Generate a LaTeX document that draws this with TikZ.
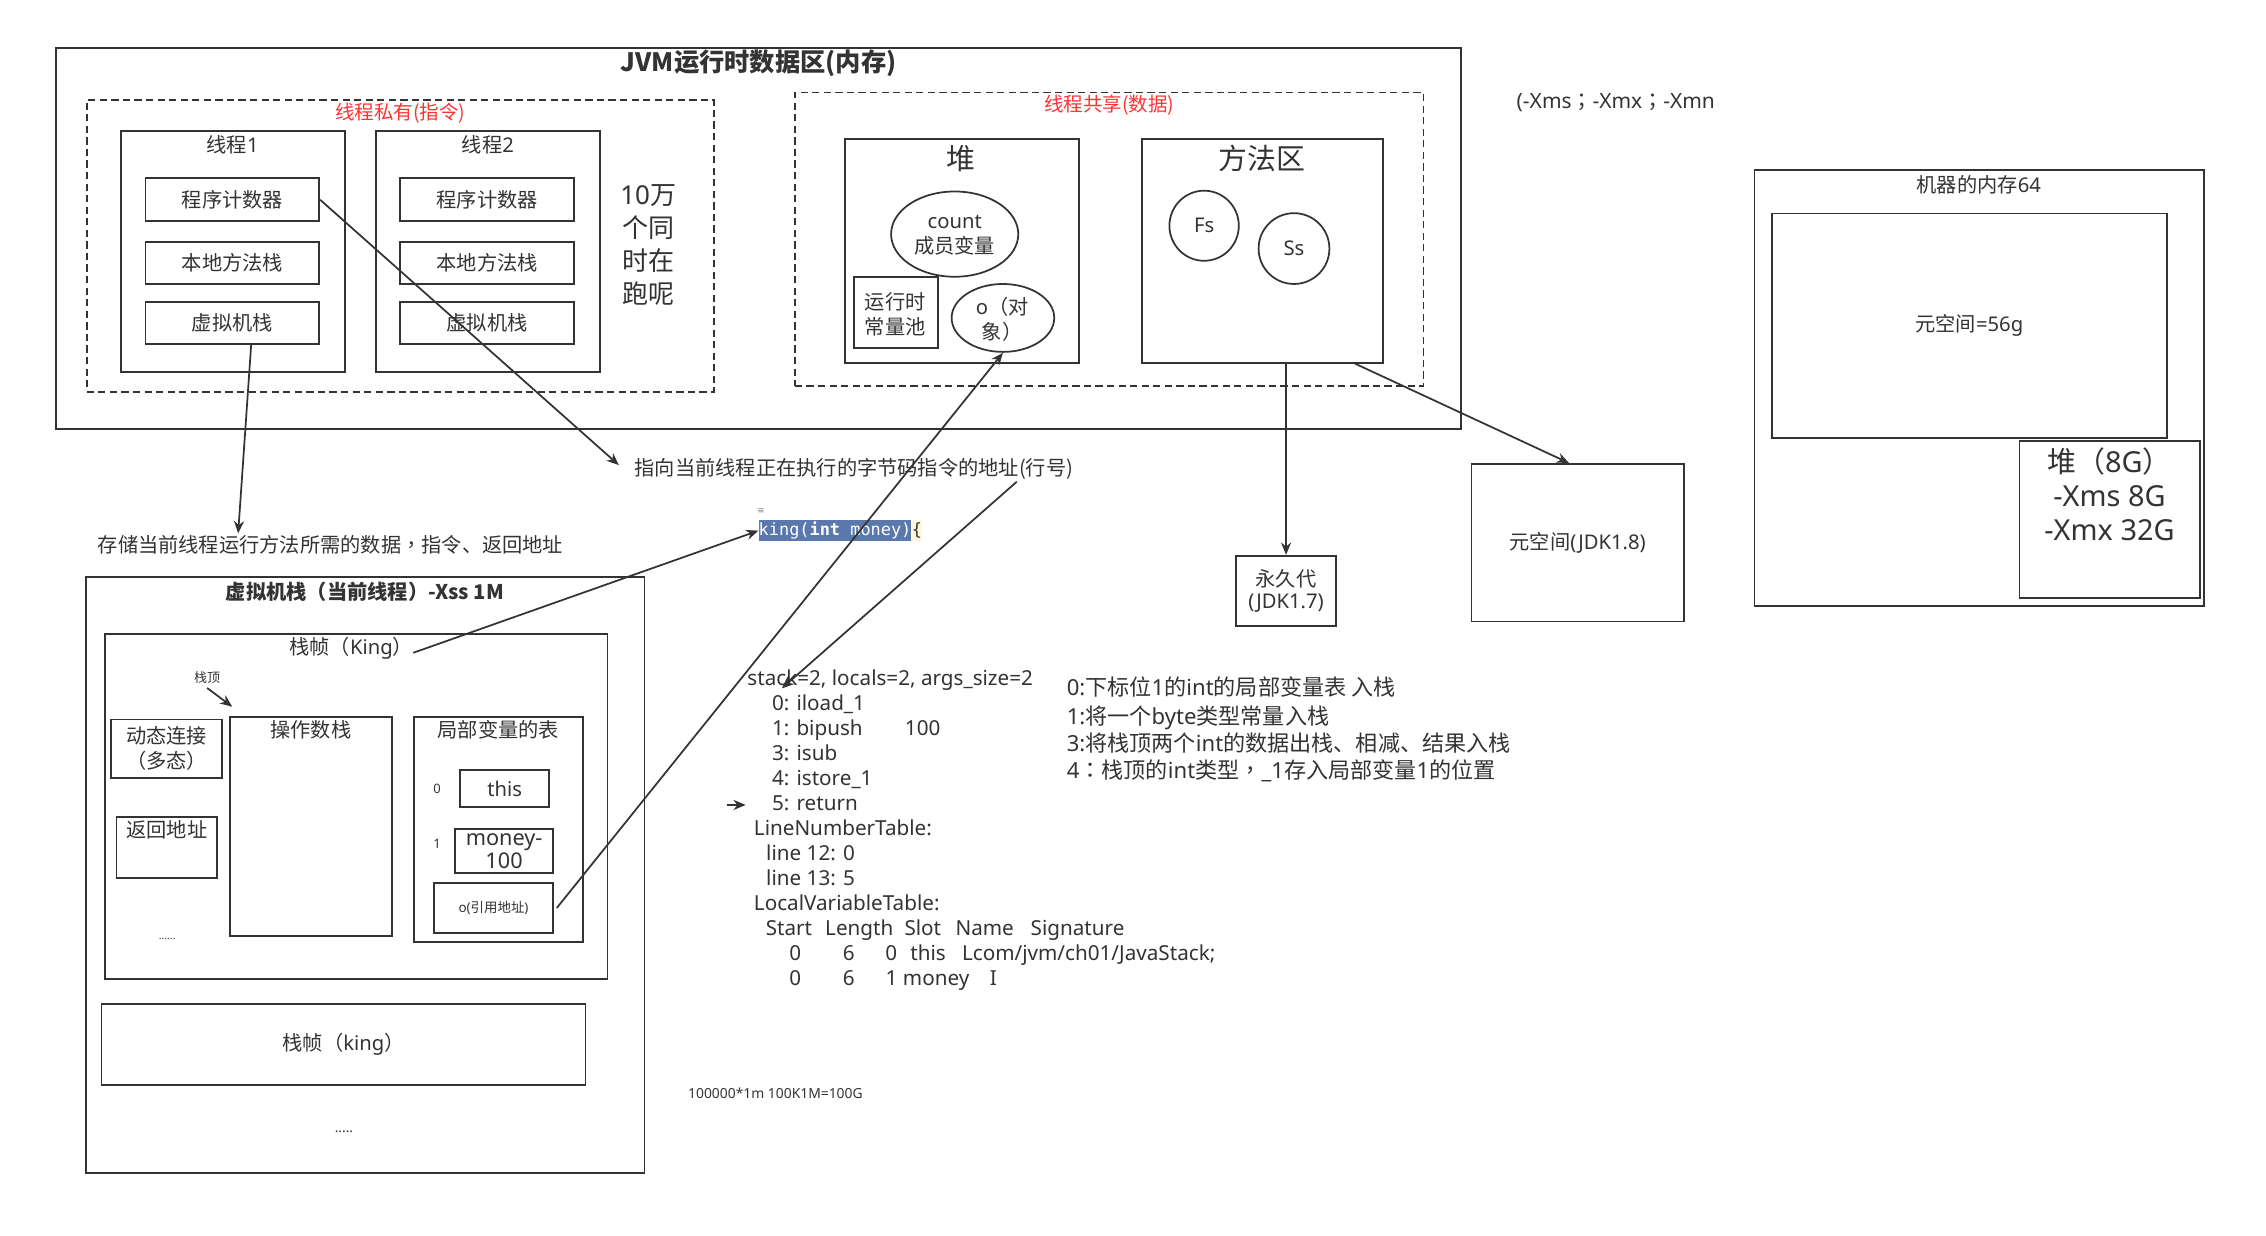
\documentclass[tikz,border=0pt]{standalone}
\usepackage{fontspec}
\setmainfont{Noto Sans CJK SC}
\newfontfamily\latinfont{Noto Sans}
\newfontfamily\tcfont{Noto Sans CJK TC}
\newfontfamily\monofont{DejaVu Sans Mono}
\newfontfamily\symfont{DejaVu Sans}
\newcommand\latn[1]{{\latinfont #1}}
\newcommand\cpun[1]{{\tcfont #1}}
\newcommand\fsz[2]{\fontsize{#1}{#2}\selectfont}
\usetikzlibrary{shapes.geometric,arrows.meta}
\definecolor{lc}{HTML}{333333}
\definecolor{tc}{HTML}{333333}
\definecolor{redlbl}{HTML}{FF3333}
\definecolor{hlblue}{HTML}{5B78AD}
\definecolor{bracebg}{HTML}{FFF8DC}
\tikzset{
  box/.style={draw=lc, line width=1.2pt, rectangle, inner sep=0pt, text=tc, font=\fsz{14}{17}},
  dbox/.style={box, dash pattern=on 5pt off 3pt},
  ell/.style={draw=lc, line width=1.2pt, ellipse, inner sep=0pt, text=tc, font=\fsz{14}{17}},
  txt/.style={inner sep=0pt, text=tc, font=\fsz{14}{17}},
  code/.style={txt, anchor=west, text height=10pt, text depth=3pt, font=\latinfont\fsz{14.3}{17}},
  note/.style={txt, anchor=west, text height=11pt, text depth=3pt, font=\fsz{15.3}{19}},
  arr/.style={draw=lc, line width=1.2pt, -{Stealth[length=8.5pt,width=7pt]}},
}
\begin{document}
\begin{tikzpicture}[x=1pt,y=-1pt]
\fill[white] (0,0) rectangle (1568,855);
\useasboundingbox (0,0) rectangle (1568,855);

% ---------- JVM runtime data area ----------
\node[box, minimum width=972pt, minimum height=264pt] (jvm) at (525,165) {};
\node[txt, font=\bfseries\fsz{17.5}{20}] (jvmtitle) at (525,44) {JVM运行时数据区(内存)};

% thread private
\node[dbox, minimum width=434pt, minimum height=202pt] (priv) at (277,170) {};
\node[txt, text=redlbl, font=\fsz{13.5}{16}] (privlbl) at (277,78.4) {线程私有(指令)};

\node[box, minimum width=155pt, minimum height=166.8pt] (t1) at (161,173.8) {};
\node[txt] (t1lbl) at (161,100.4) {线程\latn{1}};
\node[box, minimum width=120.2pt, minimum height=29.6pt] (pc1) at (160.8,138.2) {程序计数器};
\node[box, minimum width=120.2pt, minimum height=29.2pt] (nm1) at (160.8,181.9) {本地方法栈};
\node[box, minimum width=120.2pt, minimum height=29.2pt] (vs1) at (160.8,223.4) {虚拟机栈};

\node[box, minimum width=155pt, minimum height=166.8pt] (t2) at (337.6,173.8) {};
\node[txt] (t2lbl) at (337.6,100.4) {线程\latn{2}};
\node[box, minimum width=120.2pt, minimum height=29.6pt] (pc2) at (337.1,138.2) {程序计数器};
\node[box, minimum width=120.2pt, minimum height=29.2pt] (nm2) at (337.1,181.9) {本地方法栈};
\node[box, minimum width=120.2pt, minimum height=29.2pt] (vs2) at (337.1,223.4) {虚拟机栈};

\node[txt, align=center, font=\fsz{18}{23}] (many) at (448.5,169.5) {\latn{10}万\\个同\\时在\\跑呢};

% thread shared
\node[dbox, minimum width=435pt, minimum height=203pt] (shared) at (767.5,165.5) {};
\node[txt, text=redlbl, font=\fsz{13.5}{16}] (sharedlbl) at (767.7,72.7) {线程共享(数据)};

\node[box, minimum width=162pt, minimum height=154.6pt] (heap) at (665.6,173.7) {};
\node[txt, font=\fsz{20}{24}] (heaplbl) at (665,109.6) {堆};
\node[ell, minimum width=88pt, minimum height=59pt] (count) at (660.6,162) {};
\node[txt, align=center] (counttxt) at (660.6,162.6) {\latn{count}\\成员变量};
\node[box, minimum width=58pt, minimum height=49.5pt] (rcp) at (619.9,216.3) {};
\node[txt, align=center, font=\fsz{14}{17.3}] (rcptxt) at (619.5,217.4) {运行时\\常量池};
\node[ell, minimum width=71pt, minimum height=47pt] (obj) at (694,220) {};
\node[txt, align=center, font=\fsz{14}{17.3}] (objtxt) at (693.5,220.9) {\latn{o}（对\\象）};

\node[box, minimum width=167pt, minimum height=154.6pt] (method) at (873.5,173.7) {};
\node[txt, font=\fsz{20}{24}] (methodlbl) at (873,109.6) {方法区};
\node[ell, minimum width=48pt, minimum height=48.5pt] (fs) at (833.2,156.2) {\latn{Fs}};
\node[ell, minimum width=49pt, minimum height=49pt] (ss) at (895.4,172) {\latn{Ss}};

% options note
\node[txt, anchor=west, font=\fsz{14.5}{17}] (xms) at (1049.3,71.2) {\latn{(-Xms}\cpun{；}\latn{-Xmx}\cpun{；}\latn{-Xmn}};

% machine memory
\node[box, minimum width=311pt, minimum height=302pt] (machine) at (1369.5,268.4) {};
\node[txt] (machinelbl) at (1369.3,128) {机器的内存\latn{64}};
\node[box, minimum width=273.6pt, minimum height=155.2pt] (meta56) at (1362.7,225.4) {元空间\latn{=56g}};
\node[box, minimum width=125pt, minimum height=108.8pt] (heap8) at (1460,359.4) {};
\node[txt, align=center, font=\fsz{20}{23.5}] (heap8txt) at (1459.7,341.8) {堆（\latn{8G}）\\\latn{-Xms 8G}\\\latn{-Xmx 32G}};

% metaspace / permgen
\node[box, minimum width=147pt, minimum height=109pt] (meta18) at (1091.7,375.5) {元空间\latn{(JDK1.8)}};
\node[box, minimum width=69.4pt, minimum height=48.6pt, align=center, font=\fsz{14}{15}] (perm) at (889.9,408.8) {永久代\\\latn{(JDK1.7)}};

% notes
\node[txt, anchor=west] (pcnote) at (439,324.8) {指向当前线程正在执行的字节码指令的地址(行号)};
\node[txt, anchor=west] (stnote) at (67.5,377.2) {存储当前线程运行方法所需的数据\cpun{，}指令、返回地址};

% ---------- VM stack ----------
\node[box, minimum width=386.7pt, minimum height=412pt] (vmstack) at (252.65,605.5) {};
\node[txt, font=\bfseries\fsz{14}{17}] (vmtitle) at (252.5,409.5) {虚拟机栈（当前线程）-Xss 1M};
\node[box, minimum width=347.8pt, minimum height=239pt] (frame1) at (246.4,558) {};
\node[txt] (frame1lbl) at (243,448.7) {栈帧（\latn{King}）};
\node[txt, font=\fsz{9}{11}] (sttop) at (143.3,468.7) {栈顶};
\node[box, minimum width=77pt, minimum height=40.4pt, align=center, font=\fsz{14}{17.3}] (dyn) at (115.2,518) {动态连接\\（多态）};
\node[box, minimum width=69.4pt, minimum height=42.4pt] (ret) at (115.4,586.4) {};
\node[txt] (rettxt) at (115.4,574.4) {返回地址};
\node[txt, font=\latinfont\fsz{7.2}{9}] (dots1) at (115.7,649.4) {......};
\node[box, minimum width=112pt, minimum height=151.5pt] (opstack) at (215.1,571.8) {};
\node[txt] (oplbl) at (215.1,505.2) {操作数栈};
\node[box, minimum width=116.8pt, minimum height=156pt] (lvt) at (344.9,574) {};
\node[txt] (lvtlbl) at (344.9,505.2) {局部变量的表};
\node[txt, font=\latinfont\fsz{9}{11}] (idx0) at (302.4,546) {0};
\node[box, minimum width=61.6pt, minimum height=25.4pt] (thisbox) at (349.2,545.6) {\latn{this}};
\node[txt, font=\latinfont\fsz{9}{11}] (idx1) at (302.4,584) {1};
\node[box, minimum width=67.6pt, minimum height=30.7pt, align=center, font=\latinfont\fsz{15}{16}] (money) at (348.8,588.9) {money-\\100};
\node[box, minimum width=82.3pt, minimum height=34.5pt, font=\fsz{9.3}{11}] (oref) at (341.5,628.3) {\latn{o(}引用地址\latn{)}};
\node[box, minimum width=335pt, minimum height=55.8pt] (frame2) at (237.7,722.7) {栈帧（\latn{king}）};
\node[txt, font=\latinfont\fsz{9.4}{11}] (dots2) at (238,783) {.....};

% ---------- code ----------
\node[inner sep=0pt, anchor=west, fill=hlblue, text=white, minimum height=14.3pt, font=\monofont\fsz{11.7}{13}] (kingcode) at (524.8,367.2) {king(\textbf{int} money)};
\node[inner sep=0pt, anchor=west, fill=bracebg, text=tc, minimum height=14.3pt, font=\monofont\fsz{11.7}{13}] (brace) at (kingcode.east) {\{};
\node[txt, text=gray, font=\symfont\fsz{6}{7}] (icon) at (526.6,353.6) {≡};

\node[code] (bc0) at (517,470.6) {stack=2, locals=2, args\_size=2};
\node[code] (bc1) at (534,487.9) {0: iload\_1};
\node[code] (bc2) at (534,505.2) {1: bipush};
\node[code] (bc2b) at (626,505.2) {100};
\node[code] (bc3) at (534,522.5) {3: isub};
\node[code] (bc4) at (534,539.8) {4: istore\_1};
\node[code] (bc5) at (534,557) {5: return};
\node[code] (lnt) at (521.5,574.4) {LineNumberTable:};
\node[code] (ln12) at (530,591.7) {line 12: 0};
\node[code] (ln13) at (530,609) {line 13: 5};
\node[code] (lvtt) at (521.5,626.3) {LocalVariableTable:};
\node[code] (hStart) at (529.7,643.6) {Start};
\node[code] (hLength) at (570.8,643.6) {Length};
\node[code] (hSlot) at (625.7,643.6) {Slot};
\node[code] (hName) at (661,643.6) {Name};
\node[code] (hSig) at (713,643.6) {Signature};
\node[code] (r1a) at (546,660.9) {0};
\node[code] (r1b) at (583,660.9) {6};
\node[code] (r1c) at (612.5,660.9) {0};
\node[code] (r1d) at (629.7,660.9) {this};
\node[code] (r1e) at (665.5,660.9) {Lcom/jvm/ch01/JavaStack;};
\node[code] (r2a) at (546,678.2) {0};
\node[code] (r2b) at (583,678.2) {6};
\node[code] (r2c) at (612.7,678.2) {1 money};
\node[code] (r2d) at (684.8,678.2) {I};

\node[note] (n0) at (738,477.5) {\latn{0:}下标位\latn{1}的\latn{int}的局部变量表 入栈};
\node[note] (n1) at (738,497) {\latn{1:}将一个\latn{byte}类型常量入栈};
\node[note] (n3) at (738,516) {\latn{3:}将栈顶两个\latn{int}的数据出栈、相减、结果入栈};
\node[note] (n4) at (738,535) {\latn{4}\cpun{：}栈顶的\latn{int}类型\cpun{，}\latn{\_1}存入局部变量\latn{1}的位置};

\node[txt, anchor=west, font=\latinfont\fsz{9.6}{11}] (calc) at (476,756.5) {100000*1m 100K1M=100G};

% ---------- connectors ----------
\coordinate (pcend) at (428.2,321.8);
\coordinate (vsend) at (164.8,369);
\coordinate (bcstart) at (703.6,333.3);
\coordinate (bcend) at (541,476.3);
\coordinate (sttip) at (160.7,489);
\coordinate (rm0) at (502.9,557);
\coordinate (rm1) at (516,557);

\draw[arr] (pc1.east) -- (pcend);
\draw[arr] ([xshift=13pt]vs1.south) -- (vsend);
\draw[arr] ([yshift=-3pt]frame1lbl.east) -- (kingcode.west);
\draw[arr] ([xshift=2pt]oref.east) -- (obj.south);
\draw[arr] (bcstart) -- (bcend);
\draw[arr] (perm.north |- method.south) -- (perm.north);
\draw[arr] ([xshift=-20pt]method.south east) -- ([xshift=-6pt]meta18.north);
\draw[arr] ([yshift=-3pt]sttop.south) -- (sttip);
\draw[arr] (rm0) -- (rm1);
\end{tikzpicture}
\end{document}
